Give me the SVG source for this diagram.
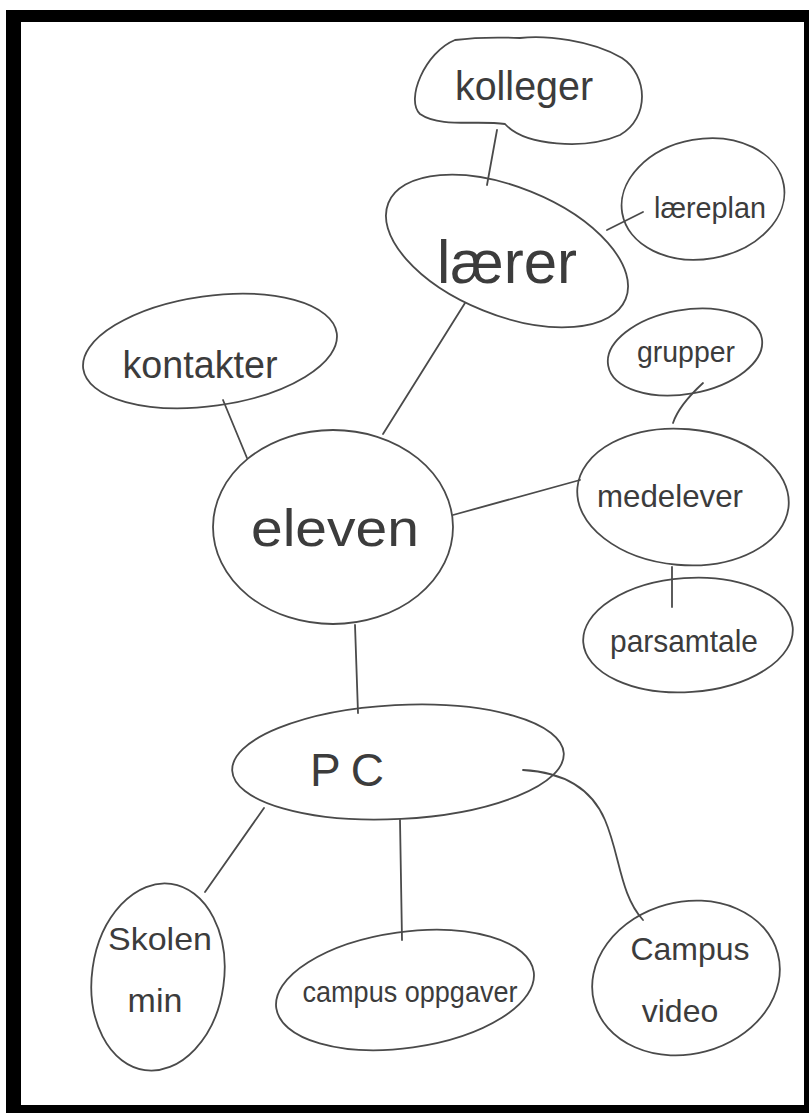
<svg xmlns="http://www.w3.org/2000/svg" width="809" height="1113" viewBox="0 0 809 1113">
<style>
.n{fill:none;stroke:#4a4a4a;stroke-width:1.8;stroke-linecap:round}
.c{fill:none;stroke:#4a4a4a;stroke-width:1.8;stroke-linecap:round}
.t{font-family:"Liberation Sans",Arial,sans-serif;fill:#3c3c3c;text-anchor:middle}
</style>
<rect x="6" y="10" width="803" height="1103" fill="#000"/>
<rect x="21" y="22" width="783" height="1083" fill="#fff"/>
<g id="connectors">
<line class="c" x1="497" y1="130" x2="487" y2="185"/>
<line class="c" x1="607" y1="230" x2="643" y2="212"/>
<line class="c" x1="465" y1="303" x2="383" y2="434"/>
<line class="c" x1="223" y1="400" x2="247" y2="458"/>
<line class="c" x1="453" y1="515" x2="580" y2="480"/>
<path class="c" d="M703,383 C690,395 678,408 673,423"/>
<line class="c" x1="672" y1="567" x2="672" y2="607"/>
<line class="c" x1="355" y1="625" x2="358" y2="713"/>
<line class="c" x1="264" y1="808" x2="205" y2="892"/>
<line class="c" x1="400" y1="820" x2="402" y2="940"/>
<path class="c" d="M523,770 C560,772 590,785 605,820 C620,855 620,895 643,920"/>
</g>
<g id="kolleger">
<path class="n" d="M455,40 C425,52 405,100 420,114 C440,128 478,120 505,124 C525,146 585,150 620,135 C650,118 648,75 622,58 C592,40 545,35 520,38 C495,37 470,38 455,40 Z"/>
<text class="t" x="524" y="100" font-size="40" textLength="138" lengthAdjust="spacingAndGlyphs">kolleger</text>
</g>
<g id="laerer">
<ellipse class="n" cx="507" cy="251" rx="128" ry="64" transform="rotate(22 507 251)"/>
<text class="t" x="507" y="283" font-size="62" textLength="140" lengthAdjust="spacingAndGlyphs">lærer</text>
</g>
<g id="laereplan">
<ellipse class="n" cx="703" cy="199" rx="82" ry="60" transform="rotate(-10 703 199)"/>
<text class="t" x="710" y="218" font-size="30" textLength="112" lengthAdjust="spacingAndGlyphs">læreplan</text>
</g>
<g id="kontakter">
<ellipse class="n" cx="210" cy="351" rx="128" ry="55" transform="rotate(-8 210 351)"/>
<text class="t" x="200" y="378" font-size="38" textLength="155" lengthAdjust="spacingAndGlyphs">kontakter</text>
</g>
<g id="eleven">
<ellipse class="n" cx="333" cy="527" rx="120" ry="97"/>
<text class="t" x="335" y="546" font-size="52" textLength="168" lengthAdjust="spacingAndGlyphs">eleven</text>
</g>
<g id="grupper">
<ellipse class="n" cx="685" cy="352" rx="78" ry="42" transform="rotate(-10 685 352)"/>
<text class="t" x="686" y="362" font-size="30" textLength="98" lengthAdjust="spacingAndGlyphs">grupper</text>
</g>
<g id="medelever">
<ellipse class="n" cx="683" cy="497" rx="106" ry="68" transform="rotate(5 683 497)"/>
<text class="t" x="670" y="507" font-size="32" textLength="146" lengthAdjust="spacingAndGlyphs">medelever</text>
</g>
<g id="parsamtale">
<ellipse class="n" cx="688" cy="635" rx="105" ry="57" transform="rotate(-4 688 635)"/>
<text class="t" x="684" y="652" font-size="32" textLength="148" lengthAdjust="spacingAndGlyphs">parsamtale</text>
</g>
<g id="pc">
<ellipse class="n" cx="398" cy="762" rx="166" ry="57" transform="rotate(-3 398 762)"/>
<text class="t" x="352" y="786" font-size="46" letter-spacing="10">PC</text>
</g>
<g id="skolen-min">
<ellipse class="n" cx="158" cy="977" rx="66" ry="94" transform="rotate(8 158 977)"/>
<text class="t" x="160" y="950" font-size="32" textLength="104" lengthAdjust="spacingAndGlyphs">Skolen</text>
<text class="t" x="155" y="1012" font-size="34">min</text>
</g>
<g id="campus-oppgaver">
<ellipse class="n" cx="405" cy="990" rx="130" ry="58" transform="rotate(-8 405 990)"/>
<text class="t" x="410" y="1002" font-size="30" textLength="215" lengthAdjust="spacingAndGlyphs">campus oppgaver</text>
</g>
<g id="campus-video">
<ellipse class="n" cx="686" cy="978" rx="95" ry="76" transform="rotate(-15 686 978)"/>
<text class="t" x="690" y="960" font-size="32">Campus</text>
<text class="t" x="680" y="1022" font-size="32">video</text>
</g>
</svg>
